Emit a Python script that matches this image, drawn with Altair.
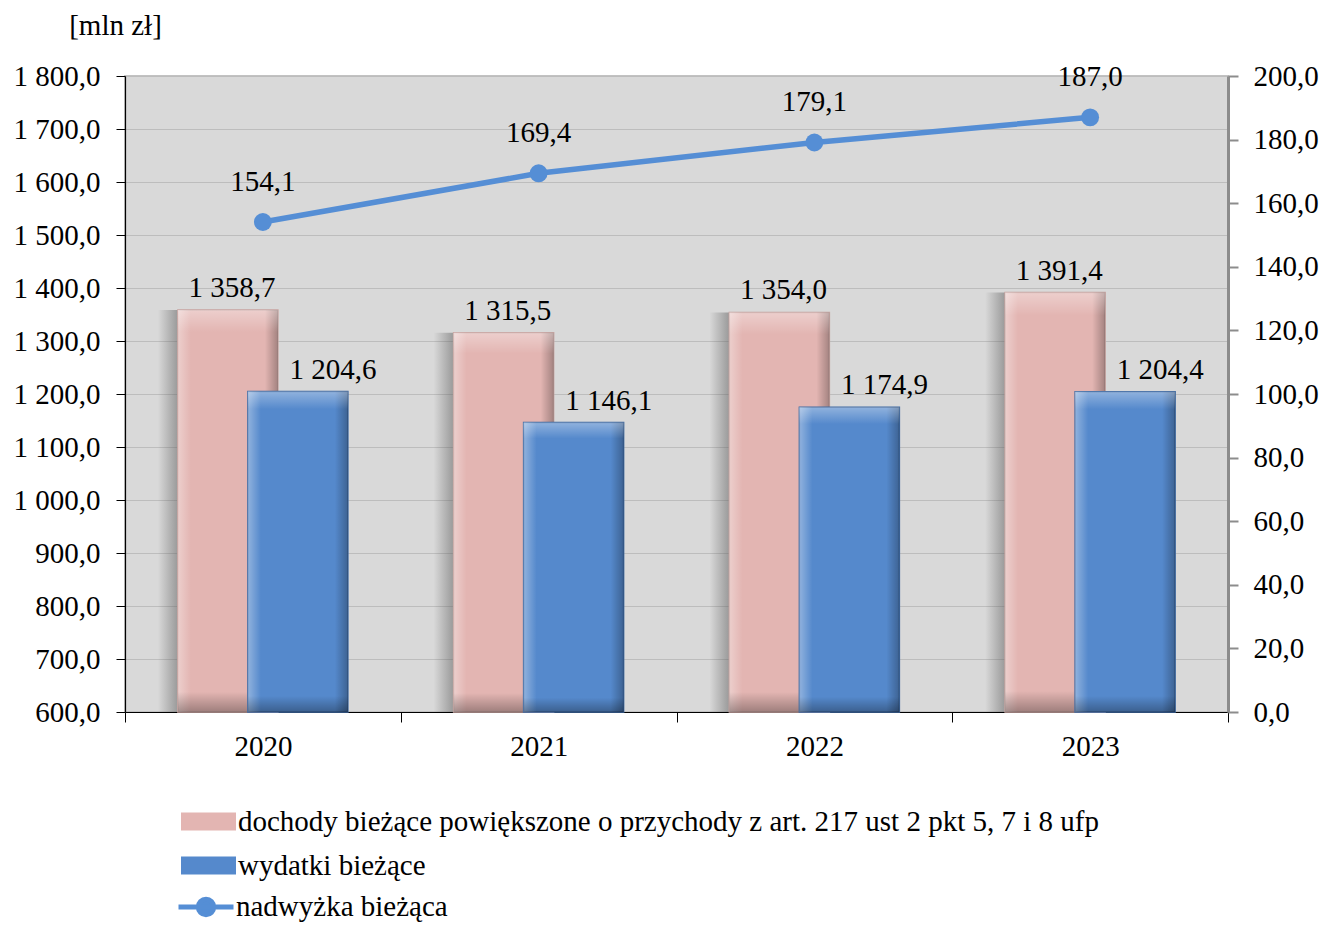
import altair as alt
import pandas as pd

years = ["2020", "2021", "2022", "2023"]
dochody = [1358.7, 1315.5, 1354.0, 1391.4]
wydatki = [1204.6, 1146.1, 1174.9, 1204.4]
nadwyzka = [154.1, 169.4, 179.1, 187.0]
series_names = [
    "dochody bieżące powiększone o przychody z art. 217 ust 2 pkt 5, 7 i 8 ufp",
    "wydatki bieżące",
]
line_name = "nadwyżka bieżąca"
left_ticks = list(range(600, 1801, 100))
right_ticks = list(range(0, 201, 20))
unit_title = "[mln zł]"

PINK = "#e3b5b2"
BLUE = "#5589cc"
LINE = "#558ed5"
FONT = "Liberation Serif"
FS = 29


def pl(v):
    return f"{v:,.1f}".replace(",", " ").replace(".", ",")


df_d = pd.DataFrame({"year": years, "value": dochody, "series": series_names[0],
                     "label": [pl(v) for v in dochody]})
df_w = pd.DataFrame({"year": years, "value": wydatki, "series": series_names[1],
                     "label": [pl(v) for v in wydatki]})
df_n = pd.DataFrame({"year": years, "value": nadwyzka, "series": line_name,
                     "label": [pl(v) for v in nadwyzka]})

LEXPR = "replace(replace(format(datum.value, ',.1f'), ',', ' '), '.', ',')"

x = alt.X("year:N", scale=alt.Scale(domain=years, paddingInner=0, paddingOuter=0),
          axis=alt.Axis(title=None, labelAngle=0, tickBand="extent", tickSize=10,
                        tickColor="black", domainColor="black", domainWidth=1.2,
                        labelPadding=10, labelFont=FONT, labelFontSize=FS,
                        labelColor="black", grid=False))

lscale = alt.Scale(domain=[600, 1800], nice=False, zero=False)
yl = alt.Y("value:Q", scale=lscale,
           axis=alt.Axis(values=left_ticks, labelExpr=LEXPR, tickSize=9, tickColor="black",
                         domainColor="black", domainWidth=1.2, labelPadding=16,
                         labelFont=FONT, labelFontSize=FS, labelColor="black",
                         grid=True, gridColor="#bdbdbd", gridWidth=1.2,
                         title=unit_title, titleAngle=0, titleX=-10, titleY=-51,
                         titleAlign="center", titleBaseline="middle", titleFont=FONT,
                         titleFontSize=FS, titleFontWeight="normal", titleColor="black"))
y2 = alt.Y2(datum=600)

fill_scale = alt.Scale(domain=series_names, range=[PINK, BLUE])
bar_legend = alt.Legend(title=None, orient="none", legendX=56, legendY=718,
                        direction="vertical", padding=0,
                        symbolType="M-1,-0.33L1,-0.33L1,0.33L-1,0.33Z", symbolSize=3025,
                        symbolStrokeWidth=0, symbolOpacity=1,
                        labelFont=FONT, labelFontSize=FS, labelColor="black",
                        labelOffset=2, labelLimit=2000, rowPadding=1)
line_legend = alt.Legend(title=None, orient="none", legendX=51, legendY=801,
                         direction="vertical", padding=0,
                         symbolType="M-1,0L1,0M-0.28,0A0.28,0.28,0,1,0,0.28,0A0.28,0.28,0,1,0,-0.28,0Z",
                         symbolSize=3025, symbolStrokeWidth=5, symbolFillColor=LINE,
                         labelFont=FONT, labelFontSize=FS, labelColor="black",
                         labelOffset=0, labelLimit=2000)

shadow_grad = alt.Gradient(gradient="linear", x1=0, x2=1, y1=0, y2=0, stops=[
    alt.GradientStop(offset=0, color="rgba(90,90,90,0)"),
    alt.GradientStop(offset=0.2, color="rgba(90,90,90,0.5)"),
    alt.GradientStop(offset=1, color="rgba(90,90,90,0.5)")])
bevel_x = alt.Gradient(gradient="linear", x1=0, x2=1, y1=0, y2=0, stops=[
    alt.GradientStop(offset=0, color="rgba(255,255,255,0.35)"),
    alt.GradientStop(offset=0.13, color="rgba(255,255,255,0)"),
    alt.GradientStop(offset=0.87, color="rgba(0,0,0,0)"),
    alt.GradientStop(offset=1, color="rgba(0,0,0,0.28)")])
bevel_y = alt.Gradient(gradient="linear", x1=0, x2=0, y1=0, y2=1, stops=[
    alt.GradientStop(offset=0, color="rgba(255,255,255,0.35)"),
    alt.GradientStop(offset=0.055, color="rgba(255,255,255,0)"),
    alt.GradientStop(offset=0.95, color="rgba(0,0,0,0)"),
    alt.GradientStop(offset=1, color="rgba(0,0,0,0.3)")])

BW = 100
OFF = 35

# pink bars
d_base = alt.Chart(df_d)
p_shadow = d_base.mark_bar(width=BW, xOffset=-OFF - 20, fill=shadow_grad).encode(x=x, y=yl, y2=y2)
p_bar = d_base.mark_bar(width=BW, xOffset=-OFF, stroke="#c7a3a0", strokeWidth=1.5).encode(
    x=x, y=yl, y2=y2,
    fill=alt.Fill("series:N", scale=fill_scale, legend=bar_legend))
p_bx = d_base.mark_bar(width=BW, xOffset=-OFF, fill=bevel_x).encode(x=x, y=yl, y2=y2)
p_by = d_base.mark_bar(width=BW, xOffset=-OFF, fill=bevel_y).encode(x=x, y=yl, y2=y2)
p_lab = d_base.mark_text(dx=-31, dy=-22, font=FONT, fontSize=FS, color="black",
                         baseline="middle").encode(x=x, y=yl, text="label:N")

# blue bars
w_base = alt.Chart(df_w)
b_bar = w_base.mark_bar(width=BW, xOffset=OFF, stroke="#3f6aa3", strokeWidth=1.5).encode(
    x=x, y=yl, y2=y2,
    fill=alt.Fill("series:N", scale=fill_scale, legend=bar_legend))
b_bx = w_base.mark_bar(width=BW, xOffset=OFF, fill=bevel_x).encode(x=x, y=yl, y2=y2)
b_by = w_base.mark_bar(width=BW, xOffset=OFF, fill=bevel_y).encode(x=x, y=yl, y2=y2)
b_lab = w_base.mark_text(dx=70, dy=-22, font=FONT, fontSize=FS, color="black",
                         baseline="middle").encode(x=x, y=yl, text="label:N")

left = alt.layer(p_shadow, p_bar, p_bx, p_by, b_bar, b_bx, b_by, p_lab, b_lab)

# line on the right axis
rscale = alt.Scale(domain=[0, 200], nice=False, zero=True)
yr = alt.Y("value:Q", scale=rscale,
           axis=alt.Axis(orient="right", values=right_ticks, labelExpr=LEXPR, tickSize=10,
                         tickColor="#8c8c8c", tickWidth=2, domainColor="#8c8c8c",
                         domainWidth=3, labelPadding=15, labelFont=FONT, labelFontSize=FS,
                         labelColor="black", grid=False, title=None))
n_base = alt.Chart(df_n)
n_line = n_base.mark_line(strokeWidth=5.5).encode(
    x=x, y=yr,
    stroke=alt.Stroke("series:N", scale=alt.Scale(domain=[line_name], range=[LINE]),
                      legend=line_legend))
n_pts = n_base.mark_point(filled=True, size=320, color=LINE, opacity=1).encode(x=x, y=yr)
n_lab = n_base.mark_text(dy=-40, font=FONT, fontSize=FS, color="black",
                         baseline="middle").encode(x=x, y=yr, text="label:N")
right = alt.layer(n_line, n_pts, n_lab)

chart = alt.layer(left, right).resolve_scale(y="independent").properties(
    width=1103, height=636,
    padding={"left": 117, "top": 68, "right": 100, "bottom": 212},
    autosize=alt.AutoSizeParams(type="none"),
    background="white",
).configure_view(fill="#d9d9d9", stroke="#c2c2c2", strokeWidth=2)

chart.save("out.html", embed_options={"renderer": "svg", "actions": False})
